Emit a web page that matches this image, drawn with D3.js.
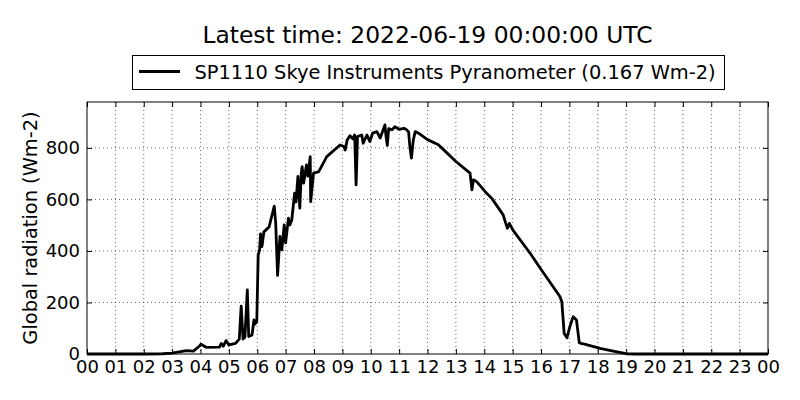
<!DOCTYPE html>
<html>
<head>
<meta charset="utf-8">
<script src="https://cdn.jsdelivr.net/npm/d3@7"></script>
<style>
  body { margin: 0; background: #fff; }
  svg { font-family: "DejaVu Sans", sans-serif; }
</style>
</head>
<body>
<svg id="chart" width="800" height="400"></svg>
<script>
const title = "Latest time: 2022-06-19 00:00:00 UTC"
const seriesName = "SP1110 Skye Instruments Pyranometer (0.167 Wm-2)"
const yLabel = "Global radiation (Wm-2)"

// readings on 2022-06-18, time of day (UTC) and value in Wm-2 (rows line up)
const times = [
    "00:00", "01:00", "02:00", "02:40", "03:00", "03:18", "03:30", "03:45",
    "03:58", "04:01", "04:12", "04:40", "04:44", "04:48", "04:54", "05:00",
    "05:14", "05:22", "05:26", "05:30", "05:34", "05:39", "05:42", "05:49",
    "05:53", "05:55", "05:59", "06:02", "06:05", "06:07", "06:10", "06:14",
    "06:25", "06:36", "06:39", "06:43", "06:48", "06:52", "06:57", "07:00",
    "07:06", "07:09", "07:13", "07:19", "07:22", "07:26", "07:30", "07:33",
    "07:35", "07:38", "07:44", "07:47", "07:52", "07:53", "07:59", "08:05",
    "08:10", "08:27", "08:55", "09:03", "09:06", "09:10", "09:16", "09:22",
    "09:26", "09:29", "09:32", "09:41", "09:44", "09:52", "09:58", "10:04",
    "10:13", "10:20", "10:30", "10:32", "10:35", "10:38", "10:45", "10:51",
    "11:00", "11:10", "11:16", "11:20", "11:23", "11:26", "11:30", "11:34",
    "11:41", "12:00", "12:23", "12:30", "13:00", "13:30", "13:34", "13:37",
    "13:44", "14:02", "14:16", "14:40", "14:45", "14:49", "14:53", "15:01",
    "15:37", "16:01", "16:40", "16:44", "16:49", "16:55", "17:01", "17:08",
    "17:15", "17:21", "17:27", "17:30", "18:05", "18:30", "19:00", "19:20",
    "21:00", "24:00"
]
const values = [
    0, 0, 0, 1, 3, 9, 13, 11,
    31, 38, 26, 27, 41, 30, 52, 35,
    41, 58, 186, 58, 66, 249, 68, 74,
    132, 116, 125, 385, 404, 466, 417, 474,
    493, 574, 509, 305, 456, 404, 501, 431,
    527, 501, 520, 624, 590, 689, 566, 700,
    727, 663, 734, 690, 766, 591, 702, 705,
    708, 766, 811, 805, 792, 830, 847, 835,
    850, 656, 844, 850, 818, 850, 825, 857,
    863, 838, 889, 850, 810, 875, 870, 882,
    872, 876, 870, 862, 800, 760, 830, 863,
    857, 832, 812, 800, 747, 702, 637, 676,
    669, 630, 604, 540, 510, 488, 507, 480,
    391, 326, 223, 203, 80, 63, 106, 145,
    132, 43, 40, 39, 22, 12, 1, 0,
    0, 0
]
const hourTicks = d3.range(0, 25)

const width = 800, height = 400
const margin = { top: 102, right: 32, bottom: 46, left: 87 }

const day = new Date(Date.UTC(2022, 5, 18))
const parseTime = t => {
    const [h, m] = t.split(":").map(Number)
    return new Date(day.getTime() + (h * 60 + m) * 60000)
}
const data = times.map((t, i) => ({ time: parseTime(t), value: values[i] }))

const x = d3.scaleUtc()
    .domain([day, new Date(day.getTime() + 24 * 3600000)])
    .range([margin.left, width - margin.right])

const y = d3.scaleLinear()
    .domain([0, 978])
    .range([height - margin.bottom, margin.top])

const tickDates = hourTicks.map(h => new Date(day.getTime() + h * 3600000))
const fmtHour = d3.utcFormat("%H")

const svg = d3.select("#chart")

// grid
svg.append("g")
    .selectAll("line")
    .data(tickDates.slice(1, -1))
    .join("line")
    .attr("x1", d => x(d)).attr("x2", d => x(d))
    .attr("y1", margin.top).attr("y2", height - margin.bottom)
    .attr("stroke", "#000").attr("stroke-width", 0.6)
    .attr("stroke-dasharray", "1,3")

svg.append("g")
    .selectAll("line")
    .data(y.ticks(5).filter(d => d > 0))
    .join("line")
    .attr("x1", margin.left).attr("x2", width - margin.right)
    .attr("y1", d => y(d)).attr("y2", d => y(d))
    .attr("stroke", "#000").attr("stroke-width", 0.6)
    .attr("stroke-dasharray", "1,3")

// axes, ticks pointing inwards like the classic style
const xAxis = g => g
    .attr("transform", `translate(0,${height - margin.bottom})`)
    .call(d3.axisBottom(x).tickValues(tickDates).tickFormat(fmtHour).tickSize(-5).tickPadding(6))
    .call(g => g.select(".domain").remove())

const xAxisTop = g => g
    .attr("transform", `translate(0,${margin.top})`)
    .call(d3.axisTop(x).tickValues(tickDates).tickFormat("").tickSize(-5))
    .call(g => g.select(".domain").remove())

const yAxis = g => g
    .attr("transform", `translate(${margin.left},0)`)
    .call(d3.axisLeft(y).ticks(5).tickSize(-5).tickPadding(7))
    .call(g => g.select(".domain").remove())

const yAxisRight = g => g
    .attr("transform", `translate(${width - margin.right},0)`)
    .call(d3.axisRight(y).ticks(5).tickFormat("").tickSize(-5))
    .call(g => g.select(".domain").remove())

svg.append("g").call(xAxis)
svg.append("g").call(xAxisTop)
svg.append("g").call(yAxis)
svg.append("g").call(yAxisRight)

svg.selectAll(".tick text")
    .attr("font-size", 18)
    .attr("font-family", "DejaVu Sans")
    .attr("fill", "#000")
svg.selectAll(".tick line").attr("stroke", "#000")

// data line
const line = d3.line()
    .x(d => x(d.time))
    .y(d => y(d.value))

svg.append("path")
    .datum(data)
    .attr("fill", "none")
    .attr("stroke", "#000")
    .attr("stroke-width", 2.8)
    .attr("stroke-linejoin", "round")
    .attr("d", line)

// frame
svg.append("rect")
    .attr("x", margin.left).attr("y", margin.top)
    .attr("width", width - margin.left - margin.right)
    .attr("height", height - margin.top - margin.bottom)
    .attr("fill", "none").attr("stroke", "#000").attr("stroke-width", 1)

// title
svg.append("text")
    .attr("x", (margin.left + width - margin.right) / 2)
    .attr("y", 43)
    .attr("text-anchor", "middle")
    .attr("font-size", 23.4)
    .text(title)

// y label
svg.append("text")
    .attr("transform", `translate(37,${(margin.top + height - margin.bottom) / 2}) rotate(-90)`)
    .attr("text-anchor", "middle")
    .attr("font-size", 19.4)
    .text(yLabel)

// legend
const legend = svg.append("g")
legend.append("rect")
    .attr("x", 132.5).attr("y", 55.5)
    .attr("width", 592).attr("height", 34)
    .attr("fill", "#fff").attr("stroke", "#000").attr("stroke-width", 1)
legend.append("line")
    .attr("x1", 139).attr("x2", 180).attr("y1", 71.5).attr("y2", 71.5)
    .attr("stroke", "#000").attr("stroke-width", 2.8)
const legendText = legend.append("text")
    .attr("x", 194.5).attr("y", 78.5)
    .attr("font-size", 18.8)
    .text(seriesName)
// fit the label to the width it has in the picture
const textW = legendText.node().getComputedTextLength()
legendText.attr("font-size", 18.8 * 521 / textW)
</script>
</body>
</html>
